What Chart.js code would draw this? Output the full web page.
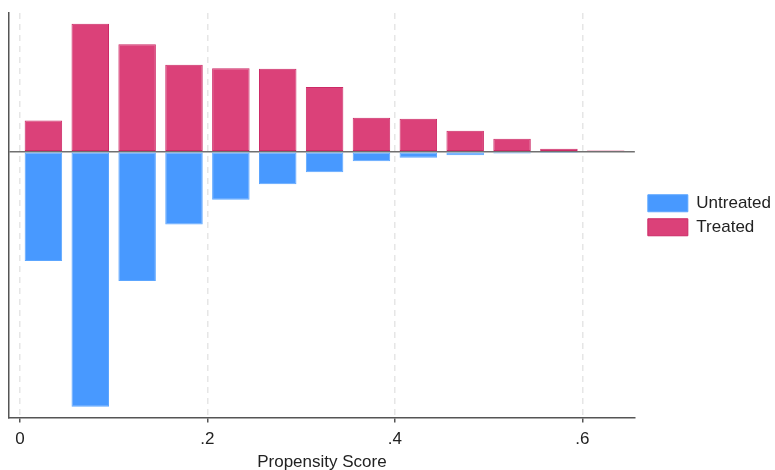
<!DOCTYPE html>
<html>
<head>
<meta charset="utf-8">
<script src="https://cdn.jsdelivr.net/npm/chart.js@4"></script>
<style>
  html, body { margin: 0; padding: 0; background: #ffffff; }
  #wrap { width: 775px; height: 470px; }
</style>
</head>
<body>
<div id="wrap"><canvas id="c" width="775" height="470"></canvas></div>
<script>
// Propensity score bins (bin centres, width 0.05)
const binCenters = [0.025, 0.075, 0.125, 0.175, 0.225, 0.275, 0.325, 0.375, 0.425, 0.475, 0.525, 0.575, 0.625];
// Density of treated units per bin (drawn above zero)
const treatedDensity = [0.91, 3.72, 3.12, 2.53, 2.43, 2.41, 1.88, 0.99, 0.96, 0.61, 0.38, 0.09, 0.04];
// Density of untreated units per bin (mirrored below zero)
const untreatedDensity = [3.17, 7.40, 3.75, 2.11, 1.39, 0.94, 0.59, 0.27, 0.17, 0.10, 0.05, 0.03, 0];
// Axis tick positions
const xTicks = [0, 0.2, 0.4, 0.6];

const FONT = "'Liberation Sans', Arial, sans-serif";

const untreatedPoints = binCenters.map((x, i) => ({ x: x, y: -untreatedDensity[i] }));
const treatedPoints = binCenters.map((x, i) => ({ x: x, y: treatedDensity[i] }));

// Leave a small gap between the plot area and the legend keys
const legendGap = {
  id: 'legendGap',
  afterLayout(chart) {
    const lg = chart.legend;
    if (lg) { lg.left += 6; lg.right += 6; }
  }
};

new Chart(document.getElementById('c'), {
  type: 'bar',
  data: {
    datasets: [
      {
        label: 'Untreated',
        data: untreatedPoints,
        backgroundColor: '#4899FF',
        borderColor: '#5CA6FF',
        borderWidth: 1,
        borderSkipped: false
      },
      {
        label: 'Treated',
        data: treatedPoints,
        backgroundColor: '#DB4179',
        borderColor: '#CC2A66',
        borderWidth: 1,
        borderSkipped: false
      }
    ]
  },
  plugins: [legendGap],
  options: {
    responsive: false,
    animation: false,
    barPercentage: 0.8,
    categoryPercentage: 1.0,
    layout: { padding: { left: 9, top: 13, right: 0, bottom: 0 } },
    plugins: {
      legend: {
        position: 'right',
        align: 'center',
        fullSize: false,
        labels: {
          boxWidth: 40,
          boxHeight: 17,
          padding: 7,
          color: '#222222',
          font: { family: FONT, size: 17 }
        }
      },
      tooltip: { enabled: false }
    },
    scales: {
      x: {
        type: 'linear',
        stacked: true,
        offset: false,
        min: -0.0117,
        max: 0.656,
        afterBuildTicks: (axis) => { axis.ticks = xTicks.map(v => ({ value: v })); },
        ticks: {
          color: '#222222',
          padding: 7,
          maxRotation: 0,
          minRotation: 0,
          autoSkip: false,
          font: { family: FONT, size: 17 },
          callback: (v) => v === 0 ? '0' : String(v).replace(/^0/, '')
        },
        grid: {
          offset: false,
          color: '#E6E6E6',
          lineWidth: 1.5,
          drawTicks: true,
          tickLength: 5,
          tickColor: '#555555',
          tickWidth: 1.5,
          tickBorderDash: []
        },
        border: { display: true, color: '#555555', width: 1.5, dash: [6, 5] },
        title: {
          display: true,
          text: 'Propensity Score',
          color: '#222222',
          font: { family: FONT, size: 17, lineHeight: 0.65 },
          padding: { top: 0, bottom: 2 }
        }
      },
      y: {
        type: 'linear',
        stacked: true,
        min: -7.71,
        max: 4.03,
        z: 1,
        afterBuildTicks: (axis) => { axis.ticks = [{ value: 0 }]; },
        ticks: { display: false },
        grid: {
          color: '#707070',
          lineWidth: 1.5,
          drawTicks: false
        },
        border: { display: true, color: '#555555', width: 1.5 }
      }
    }
  }
});
</script>
</body>
</html>
